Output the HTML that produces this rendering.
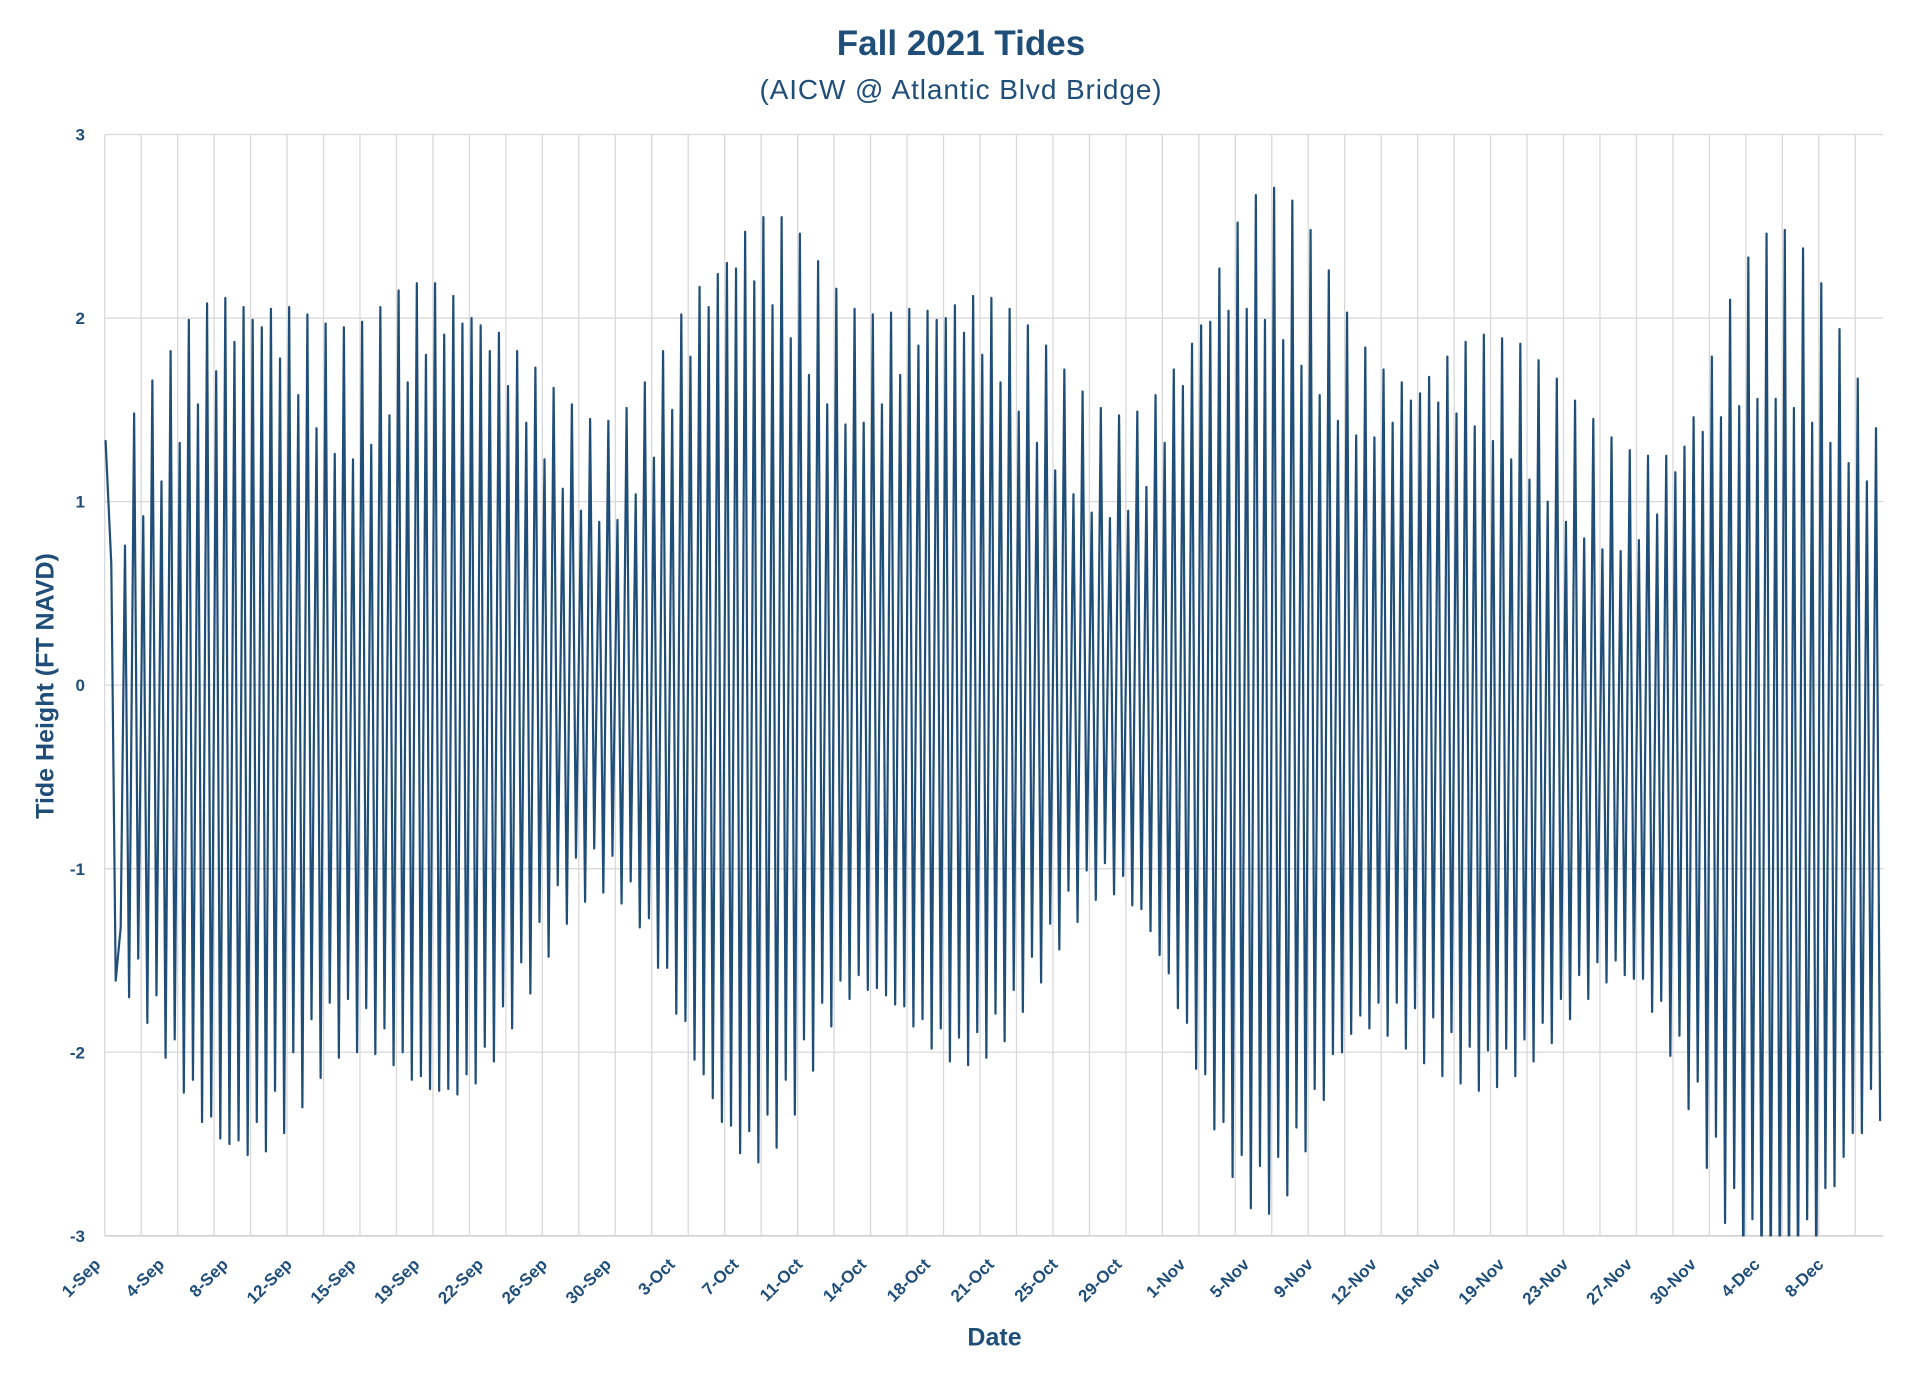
<!DOCTYPE html>
<html>
<head>
<meta charset="utf-8">
<style>
  html,body{margin:0;padding:0;background:#ffffff;}
  svg{display:block;}
  .tt{font-family:"Liberation Sans",Arial,sans-serif;fill:#1F4E79;}
</style>
</head>
<body>
<svg id="chart" width="1922" height="1380" viewBox="0 0 1922 1380" xmlns="http://www.w3.org/2000/svg">
  <rect x="0" y="0" width="1922" height="1380" fill="#ffffff"/>
  <defs>
    <clipPath id="plotclip"><rect x="103" y="133" width="1781" height="1103.5"/></clipPath>
  </defs>

  <!-- Titles -->
  <text class="tt" x="961" y="55" text-anchor="middle" font-size="35" font-weight="bold">Fall 2021 Tides</text>
  <text class="tt" x="961" y="99" text-anchor="middle" font-size="28" letter-spacing="0.9">(AICW @ Atlantic Blvd Bridge)</text>

  <!-- gridlines -->
  <g id="grid" stroke="#D9D9D9" stroke-width="1.3" fill="none"></g>

  <!-- y tick labels -->
  <g class="tt" font-size="17" font-weight="bold" text-anchor="end">
    <text x="85" y="140.6">3</text>
    <text x="85" y="324.1">2</text>
    <text x="85" y="507.7">1</text>
    <text x="85" y="691.2">0</text>
    <text x="85" y="874.8">-1</text>
    <text x="85" y="1058.3">-2</text>
    <text x="85" y="1241.9">-3</text>
  </g>

  <!-- y axis title -->
  <text class="tt" font-size="25" font-weight="bold" text-anchor="middle" transform="translate(53.3,686) rotate(-90)">Tide Height (FT NAVD)</text>

  <!-- x tick labels -->
  <g class="tt" font-size="17" font-weight="bold" text-anchor="end">
    <text transform="translate(101.5,1265.5) rotate(-45)">1-Sep</text>
    <text transform="translate(165.3,1265.5) rotate(-45)">4-Sep</text>
    <text transform="translate(229.1,1265.5) rotate(-45)">8-Sep</text>
    <text transform="translate(293.0,1265.5) rotate(-45)">12-Sep</text>
    <text transform="translate(356.8,1265.5) rotate(-45)">15-Sep</text>
    <text transform="translate(420.6,1265.5) rotate(-45)">19-Sep</text>
    <text transform="translate(484.4,1265.5) rotate(-45)">22-Sep</text>
    <text transform="translate(548.2,1265.5) rotate(-45)">26-Sep</text>
    <text transform="translate(612.1,1265.5) rotate(-45)">30-Sep</text>
    <text transform="translate(675.9,1265.5) rotate(-45)">3-Oct</text>
    <text transform="translate(739.7,1265.5) rotate(-45)">7-Oct</text>
    <text transform="translate(803.5,1265.5) rotate(-45)">11-Oct</text>
    <text transform="translate(867.3,1265.5) rotate(-45)">14-Oct</text>
    <text transform="translate(931.2,1265.5) rotate(-45)">18-Oct</text>
    <text transform="translate(995.0,1265.5) rotate(-45)">21-Oct</text>
    <text transform="translate(1058.8,1265.5) rotate(-45)">25-Oct</text>
    <text transform="translate(1122.6,1265.5) rotate(-45)">29-Oct</text>
    <text transform="translate(1186.4,1265.5) rotate(-45)">1-Nov</text>
    <text transform="translate(1250.3,1265.5) rotate(-45)">5-Nov</text>
    <text transform="translate(1314.1,1265.5) rotate(-45)">9-Nov</text>
    <text transform="translate(1377.9,1265.5) rotate(-45)">12-Nov</text>
    <text transform="translate(1441.7,1265.5) rotate(-45)">16-Nov</text>
    <text transform="translate(1505.5,1265.5) rotate(-45)">19-Nov</text>
    <text transform="translate(1569.4,1265.5) rotate(-45)">23-Nov</text>
    <text transform="translate(1633.2,1265.5) rotate(-45)">27-Nov</text>
    <text transform="translate(1697.0,1265.5) rotate(-45)">30-Nov</text>
    <text transform="translate(1760.8,1265.5) rotate(-45)">4-Dec</text>
    <text transform="translate(1824.6,1265.5) rotate(-45)">8-Dec</text>
  </g>

  <!-- x axis title -->
  <text class="tt" x="994.5" y="1345.7" text-anchor="middle" font-size="25" font-weight="bold">Date</text>

  <!-- data -->
  <g clip-path="url(#plotclip)">
    <polyline id="series" fill="none" stroke="#1F4E79" stroke-width="2.2" stroke-linejoin="round" stroke-linecap="round" points=""/>
  </g>
</svg>
<script>
(function(){
  var NS="http://www.w3.org/2000/svg";
  var grid=document.getElementById("grid");
  var top=134.5, unit=183.55, left=104.7, right=1883.3;
  var i, ln;
  for(i=0;i<7;i++){
    var y=top+i*unit;
    ln=document.createElementNS(NS,"line");
    ln.setAttribute("x1",left);ln.setAttribute("x2",right);
    ln.setAttribute("y1",y);ln.setAttribute("y2",y);
    if(i===6){ln.setAttribute("stroke","#D0D0D0");ln.setAttribute("stroke-width","1.6");}
    grid.appendChild(ln);
  }
  for(i=0;i<=48;i++){
    var x=left+i*36.47;
    ln=document.createElementNS(NS,"line");
    ln.setAttribute("x1",x);ln.setAttribute("x2",x);
    ln.setAttribute("y1",top);ln.setAttribute("y2",top+6*unit);
    grid.appendChild(ln);
  }

  var H=[0.76,1.48,0.92,1.66,1.11,1.82,1.32,1.99,1.53,2.08,
  1.71,2.11,1.87,2.06,1.99,1.95,2.05,1.78,2.06,1.58,
  2.02,1.40,1.97,1.26,1.95,1.23,1.98,1.31,2.06,1.47,
  2.15,1.65,2.19,1.80,2.19,1.91,2.12,1.97,2.00,1.96,
  1.82,1.92,1.63,1.82,1.43,1.73,1.23,1.62,1.07,1.53,
  0.95,1.45,0.89,1.44,0.90,1.51,1.04,1.65,1.24,1.82,
  1.50,2.02,1.79,2.17,2.06,2.24,2.30,2.27,2.47,2.20,
  2.55,2.07,2.55,1.89,2.46,1.69,2.31,1.53,2.16,1.42,
  2.05,1.43,2.02,1.53,2.03,1.69,2.05,1.85,2.04,1.99,
  2.00,2.07,1.92,2.12,1.80,2.11,1.65,2.05,1.49,1.96,
  1.32,1.85,1.17,1.72,1.04,1.60,0.94,1.51,0.91,1.47,
  0.95,1.49,1.08,1.58,1.32,1.72,1.63,1.86,1.96,1.98,
  2.27,2.04,2.52,2.05,2.67,1.99,2.71,1.88,2.64,1.74,
  2.48,1.58,2.26,1.44,2.03,1.36,1.84,1.35,1.72,1.43,
  1.65,1.55,1.59,1.68,1.54,1.79,1.48,1.87,1.41,1.91,
  1.33,1.89,1.23,1.86,1.12,1.77,1.00,1.67,0.89,1.55,
  0.80,1.45,0.74,1.35,0.73,1.28,0.79,1.25,0.93,1.25,
  1.16,1.30,1.46,1.38,1.79,1.46,2.10,1.52,2.33,1.56,
  2.46,1.56,2.48,1.51,2.38,1.43,2.19,1.32,1.94,1.21,
  1.67,1.11,1.40];
  var L=[-1.70,-1.49,-1.84,-1.69,-2.03,-1.93,-2.22,-2.15,-2.38,-2.35,
  -2.47,-2.50,-2.48,-2.56,-2.38,-2.54,-2.21,-2.44,-2.00,-2.30,
  -1.82,-2.14,-1.73,-2.03,-1.71,-2.00,-1.76,-2.01,-1.87,-2.07,
  -2.00,-2.15,-2.13,-2.20,-2.21,-2.20,-2.23,-2.12,-2.17,-1.97,
  -2.05,-1.75,-1.87,-1.51,-1.68,-1.29,-1.48,-1.09,-1.30,-0.94,
  -1.18,-0.89,-1.13,-0.93,-1.19,-1.07,-1.32,-1.27,-1.54,-1.54,
  -1.79,-1.83,-2.04,-2.12,-2.25,-2.38,-2.40,-2.55,-2.43,-2.60,
  -2.34,-2.52,-2.15,-2.34,-1.93,-2.10,-1.73,-1.86,-1.61,-1.71,
  -1.58,-1.66,-1.65,-1.69,-1.74,-1.75,-1.86,-1.82,-1.98,-1.87,
  -2.05,-1.92,-2.07,-1.89,-2.03,-1.79,-1.94,-1.66,-1.78,-1.48,
  -1.62,-1.30,-1.44,-1.12,-1.29,-1.01,-1.17,-0.97,-1.14,-1.04,
  -1.20,-1.22,-1.34,-1.47,-1.57,-1.76,-1.84,-2.09,-2.12,-2.42,
  -2.38,-2.68,-2.56,-2.85,-2.62,-2.88,-2.57,-2.78,-2.41,-2.54,
  -2.20,-2.26,-2.01,-2.00,-1.90,-1.80,-1.87,-1.73,-1.91,-1.73,
  -1.98,-1.76,-2.06,-1.81,-2.13,-1.89,-2.17,-1.97,-2.21,-1.99,
  -2.19,-1.98,-2.13,-1.93,-2.05,-1.84,-1.95,-1.71,-1.82,-1.58,
  -1.71,-1.51,-1.62,-1.50,-1.58,-1.60,-1.60,-1.78,-1.72,-2.02,
  -1.91,-2.31,-2.16,-2.63,-2.46,-2.93,-2.74,-3.3,-2.91,-3.3,
  -3.3,-3.3,-3.3,-3.3,-2.91,-3.3,-2.74,-2.73,-2.57,-2.44,
  -2.44,-2.20,-2.37];
  var zero=top+3*unit;
  function Y(v){return (zero-v*unit).toFixed(2);}
  var pts=[[105.6,1.33],[111.3,0.66],[115.7,-1.61],[120.7,-1.32]];
  var n=Math.min(H.length,L.length);
  var step=(1876-125)/(n-1);
  for(i=0;i<n;i++){
    pts.push([125+i*step,H[i]]);
    pts.push([129.1+i*step,L[i]]);
  }
  var s=[];
  for(i=0;i<pts.length;i++){s.push(pts[i][0].toFixed(2)+","+Y(pts[i][1]));}
  document.getElementById("series").setAttribute("points",s.join(" "));
})();
</script>
</body>
</html>
